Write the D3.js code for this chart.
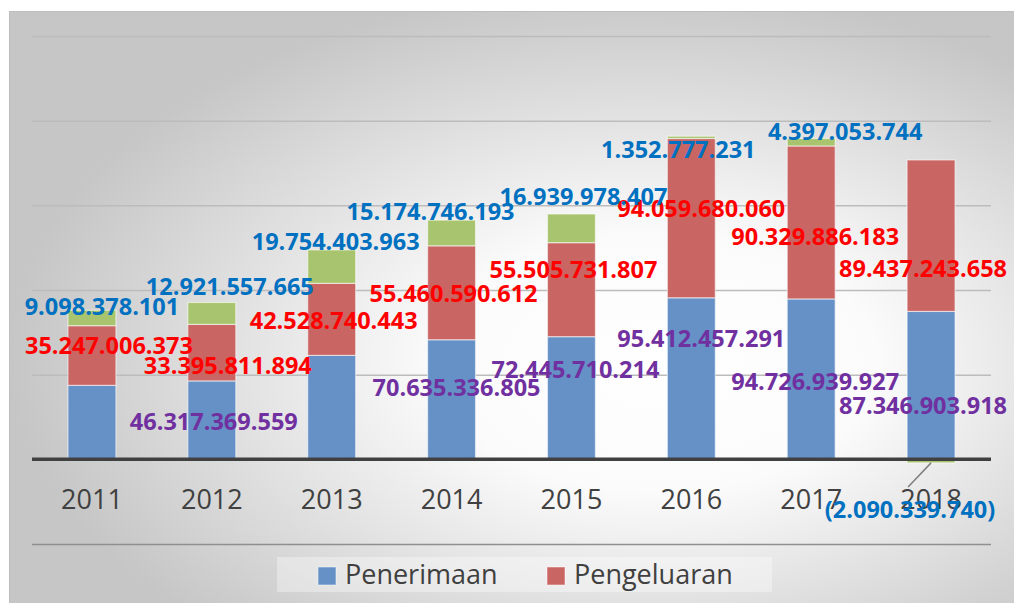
<!DOCTYPE html>
<html>
<head>
<meta charset="utf-8">
<script src="https://cdn.jsdelivr.net/npm/d3@7"></script>
<style>
  body { margin: 0; background: #fff; }
  svg { display: block; }
  text { font-family: "Open Sans", "Liberation Sans", Arial, sans-serif; }
</style>
</head>
<body>
<svg id="chart" width="1014" height="603"></svg>
<script>
const years = ['2011', '2012', '2013', '2014', '2015', '2016', '2017', '2018']
// Penerimaan (2011, 2013 have no label in source)
const penerimaan = [43700000000, 46317369559, 61400000000, 70635336805, 72445710214, 95412457291, 94726939927, 87346903918]
const pengeluaran = [35247006373, 33395811894, 42528740443, 55460590612, 55505731807, 94059680060, 90329886183, 89437243658]
const selisih = [9098378101, 12921557665, 19754403963, 15174746193, 16939978407, 1352777231, 4397053744, -2090339740]
const showPenerimaanLabel = [false, true, false, true, true, true, true, true]
const yTicks = [-50e9, 0, 50e9, 100e9, 150e9, 200e9, 250e9]

// label nudges (px) relative to segment centre, like hand-moved Excel labels
const nudgePenerimaan = [[0, 0], [2, 1], [0, 0], [5, -12], [4, -28], [10, -40], [4, 2], [-8, 20]]
const nudgePengeluaran = [[17, -10], [16, 13], [2, 1], [2, 1], [2, -20], [10, -10], [4, 14], [-8, 33]]
const nudgeSelisih = [[10, -11], [18, -27], [4, -25], [-21, -21], [12, -32], [-13, 12], [34, -11], [-21, 48]]

const W = 1014, H = 603
const margin = { left: 32, right: 23 }
const svg = d3.select('#chart')

// background gradient
let defs = svg.append('defs')
let grad = defs.append('radialGradient')
  .attr('id', 'bg')
  .attr('cx', 0.62).attr('cy', 0.58).attr('r', 0.62)
  .attr('fx', 0.66).attr('fy', 0.6)
grad.append('stop').attr('offset', 0).attr('stop-color', '#ffffff')
grad.append('stop').attr('offset', 0.35).attr('stop-color', '#fbfbfb')
grad.append('stop').attr('offset', 1).attr('stop-color', '#c6c6c6')

svg.append('rect')
  .attr('x', 9.5).attr('y', 11.5)
  .attr('width', W - 9).attr('height', H - 11)
  .attr('fill', 'url(#bg)')
  .attr('stroke', '#bdbdbd')

let x = d3.scaleBand()
  .domain(years)
  .range([margin.left, W - margin.right])
  .paddingInner(0.6)
  .paddingOuter(0.3)

let y = d3.scaleLinear()
  .domain([-50e9, 250e9])
  .range([544, 36])

// grid
svg.append('g')
  .attr('transform', `translate(${margin.left},0)`)
  .call(d3.axisLeft(y).tickValues(yTicks).tickSize(-(W - margin.right - margin.left)).tickFormat(''))
  .call(g => g.select('.domain').remove())
  .call(g => g.selectAll('.tick line')
    .attr('stroke', d => d < 0 ? '#8f8f8f' : '#bcbcbc')
    .attr('stroke-width', 1.5))

// stacked data
let rows = years.map((yr, i) => ({
  year: yr,
  penerimaan: penerimaan[i],
  pengeluaran: pengeluaran[i],
  selisih: selisih[i],
}))
let keys = ['penerimaan', 'pengeluaran', 'selisih']
let colors = { penerimaan: '#6691c6', pengeluaran: '#c96563', selisih: '#a9c46f' }
let labelColors = { penerimaan: '#7030a0', pengeluaran: '#ff0000', selisih: '#0070c0' }
let nudges = { penerimaan: nudgePenerimaan, pengeluaran: nudgePengeluaran, selisih: nudgeSelisih }
let stacked = d3.stack().keys(keys).offset(d3.stackOffsetDiverging)(rows)

let bars = svg.append('g')
stacked.forEach(layer => {
  bars.append('g')
    .selectAll('rect')
    .data(layer)
    .join('rect')
    .attr('x', d => x(d.data.year))
    .attr('width', x.bandwidth())
    .attr('y', d => y(Math.max(d[0], d[1])))
    .attr('height', d => Math.abs(y(d[0]) - y(d[1])))
    .attr('fill', colors[layer.key])
    .attr('stroke', 'rgba(255,255,255,0.55)')
    .attr('stroke-width', 1.2)
})

// zero axis line
svg.append('line')
  .attr('x1', margin.left).attr('x2', W - margin.right)
  .attr('y1', y(0)).attr('y2', y(0))
  .attr('stroke', '#404040')
  .attr('stroke-width', 3.5)

// year labels
svg.append('g')
  .attr('transform', `translate(0,${y(0)})`)
  .call(d3.axisBottom(x).tickSize(0).tickPadding(31))
  .call(g => g.select('.domain').remove())
  .call(g => g.selectAll('text')
    .attr('fill', '#404040')
    .style('font-size', '27px')
    .style('font-family', '"Open Sans", "Liberation Sans", Arial, sans-serif'))

// data labels
let idLocale = d3.formatLocale({ decimal: ',', thousands: '.', grouping: [3], currency: ['', ''] })
let fmt = idLocale.format(',.0f')
let fmtVal = v => v < 0 ? `(${fmt(-v)})` : fmt(v)

let labelGroup = svg.append('g')
stacked.forEach(layer => {
  let key = layer.key
  layer.forEach((d, i) => {
    if (key === 'penerimaan' && !showPenerimaanLabel[i]) return
    let cx = x(d.data.year) + x.bandwidth() / 2
    let cy = (y(d[0]) + y(d[1])) / 2
    let [dx, dy] = nudges[key][i]
    let lx = cx + dx, ly = cy + dy
    if (d.data[key] < 0) {
      // leader line for the label moved below the axis
      labelGroup.append('line')
        .attr('x1', cx).attr('y1', y(d[0]))
        .attr('x2', lx - 2).attr('y2', ly - 22)
        .attr('stroke', '#7f7f7f')
        .attr('stroke-width', 1.5)
    }
    labelGroup.append('text')
      .attr('x', lx)
      .attr('y', ly)
      .attr('dy', '0.36em')
      .attr('text-anchor', 'middle')
      .attr('fill', labelColors[key])
      .style('font-size', '23.5px')
      .style('font-weight', 'bold')
      .text(fmtVal(d.data[key]))
  })
})

// legend
let legendItems = [
  { name: 'Penerimaan', color: colors.penerimaan, x: 318 },
  { name: 'Pengeluaran', color: colors.pengeluaran, x: 547 },
]
let legend = svg.append('g')
legend.append('rect')
  .attr('x', 277).attr('y', 557)
  .attr('width', 495).attr('height', 35)
  .attr('fill', '#ffffff')
  .attr('opacity', 0.35)
let li = legend.selectAll('g.item')
  .data(legendItems)
  .join('g')
  .attr('class', 'item')
  .attr('transform', d => `translate(${d.x},567)`)
li.append('rect')
  .attr('width', 18).attr('height', 18)
  .attr('fill', d => d.color)
  .attr('stroke', 'rgba(255,255,255,0.5)')
li.append('text')
  .attr('x', 27).attr('y', 17)
  .attr('fill', '#404040')
  .style('font-size', '27px')
  .text(d => d.name)
</script>
</body>
</html>
